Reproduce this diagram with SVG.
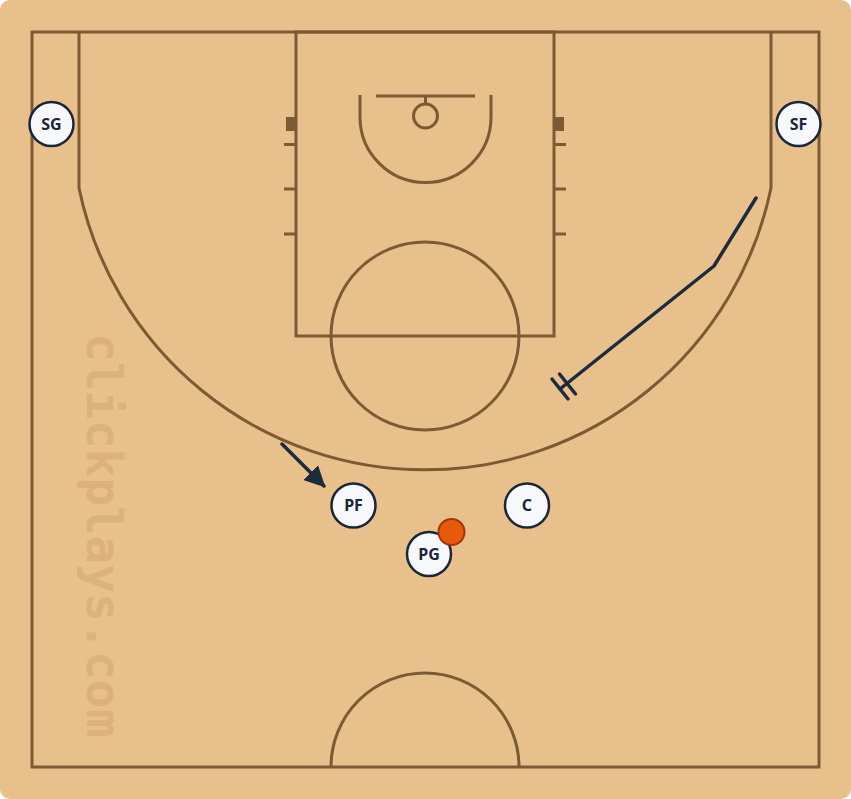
<svg xmlns="http://www.w3.org/2000/svg" width="851" height="799" viewBox="0 0 851 799">
<style>
.ln{fill:none;stroke:#7B5A34;stroke-width:3}
.mk{fill:#7B5A34}
.pl circle{fill:#F6F8FC;stroke:#1B263A;stroke-width:2.5}
.pl text{font-family:"Noto Sans","DejaVu Sans",sans-serif;font-weight:bold;font-size:16px;fill:#1B263A;text-anchor:middle}
.act{fill:none;stroke:#1E2A3E;stroke-width:3.5;stroke-linecap:round;stroke-linejoin:round}
</style>
<defs>
<marker id="ah" viewBox="0 0 10 10" refX="9" refY="5" markerWidth="6" markerHeight="6" markerUnits="strokeWidth" orient="auto">
<path d="M0,0 L10,5 L0,10 z" fill="#1E2A3E"/>
</marker>
</defs>
<rect x="0" y="0" width="851" height="799" rx="10" fill="#E8C08B"/>
<text transform="translate(87,333) rotate(90)" font-family="DejaVu Sans Mono,monospace" font-weight="bold" font-size="48" fill="#DCB17D">clickplays.com</text>
<g id="court">
<rect class="ln" x="32" y="32" width="787" height="735"/>
<path class="ln" d="M79,32 V188 A353.3,353.3 0 0 0 771,188 V32"/>
<rect class="ln" x="296" y="32" width="258" height="304"/>
<circle class="ln" cx="425" cy="336" r="94"/>
<path class="ln" d="M360,95 V117 A65.5,65.5 0 0 0 491,117 V95"/>
<path class="ln" d="M376,96 H475 M425.5,96 V104"/>
<circle class="ln" cx="425.5" cy="116" r="12"/>
<rect class="mk" x="286" y="117" width="11" height="14"/>
<rect class="mk" x="553" y="117" width="11" height="14"/>
<path class="ln" d="M284,144.5 H296 M284,189 H296 M284,234 H296 M554,144.5 H566 M554,189 H566 M554,234 H566"/>
<path class="ln" d="M331,767 A94,94 0 0 1 519,767"/>
</g>
<g id="connectors">
<line class="act" x1="282" y1="444" x2="324" y2="486" marker-end="url(#ah)"/>
<polyline class="act" points="756,198 714,266 560,389"/>
<line class="act" x1="552" y1="379" x2="568" y2="399"/>
<line class="act" x1="559.5" y1="374" x2="575.5" y2="394"/>
</g>
<g id="SG" class="pl"><circle cx="51.5" cy="124" r="22"/><text x="51.5" y="129.5">SG</text></g>
<g id="SF" class="pl"><circle cx="798.5" cy="124" r="22"/><text x="798.5" y="129.5">SF</text></g>
<g id="PF" class="pl"><circle cx="353.5" cy="505.5" r="22"/><text x="353.5" y="511">PF</text></g>
<g id="C" class="pl"><circle cx="527" cy="505.5" r="22"/><text x="527" y="511">C</text></g>
<g id="PG" class="pl"><circle cx="429" cy="554" r="22"/><text x="429" y="559.5">PG</text></g>
<g id="ball"><circle cx="451.5" cy="532" r="13" fill="#E8590C" stroke="#9C3A0A" stroke-width="2"/></g>
</svg>
